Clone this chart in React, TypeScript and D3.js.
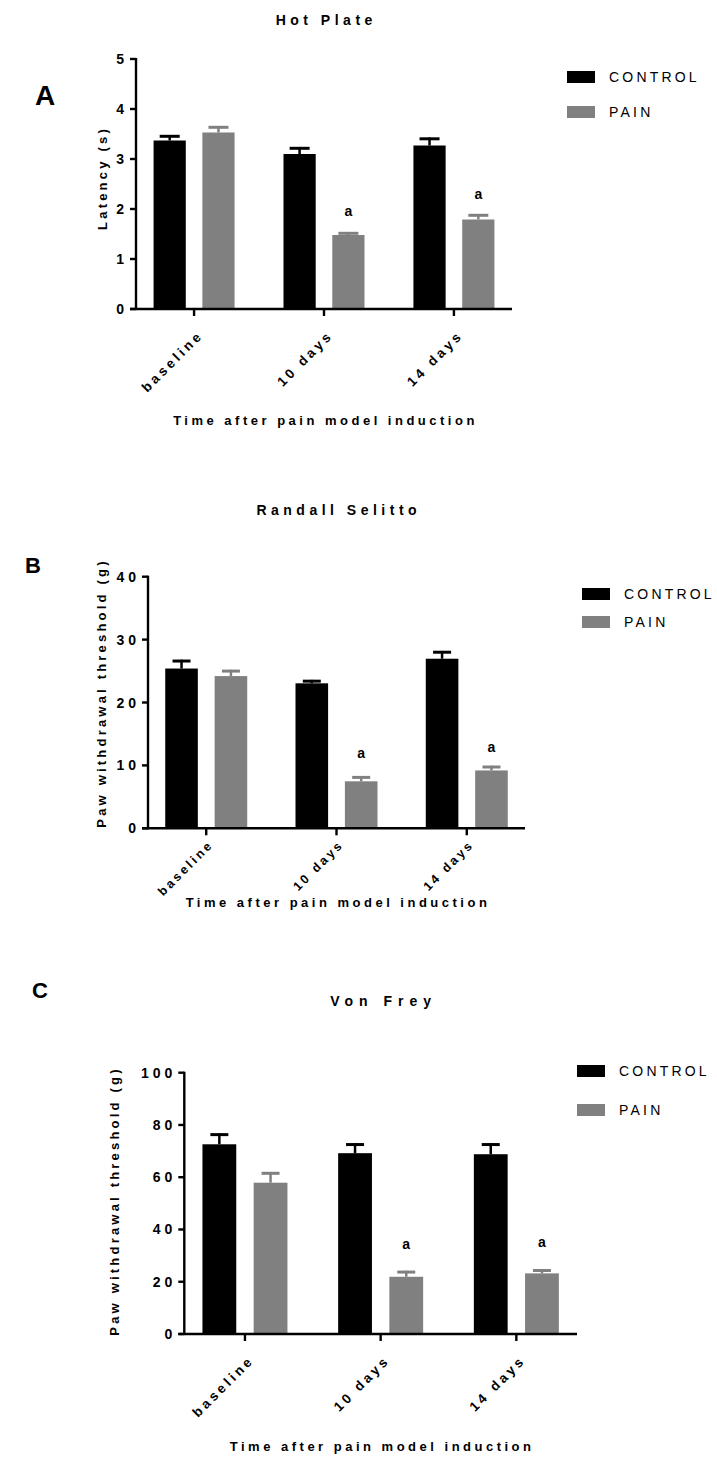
import React from "react";
import * as d3 from "d3";

// ---------- DATA ----------
const groups = ["baseline", "10 days", "14 days"];
const seriesNames = ["CONTROL", "PAIN"];
const seriesColors = ["#000000", "#808080"];

const hotPlateControl = [3.37, 3.1, 3.27];
const hotPlateControlSem = [0.11, 0.14, 0.16];
const hotPlatePain = [3.53, 1.48, 1.79];
const hotPlatePainSem = [0.13, 0.06, 0.11];
const hotPlateTicks = [0, 1, 2, 3, 4, 5];
const hotPlateSigAt = [null, 1.86, 2.2];

const randallControl = [25.4, 23.05, 26.96];
const randallControlSem = [1.4, 0.55, 1.24];
const randallPain = [24.2, 7.47, 9.2];
const randallPainSem = [1.0, 0.83, 0.75];
const randallTicks = [0, 10, 20, 30, 40];
const randallSigAt = [null, 11.2, 12.1];

const vonFreyControl = [72.6, 69.2, 68.8];
const vonFreyControlSem = [4.2, 3.8, 4.2];
const vonFreyPain = [57.9, 21.9, 23.2];
const vonFreyPainSem = [4.1, 2.3, 1.6];
const vonFreyTicks = [0, 20, 40, 60, 80, 100];
const vonFreySigAt = [null, 32.5, 33.3];

const sigLabel = "a";
const xAxisTitle = "Time after pain model induction";

// ---------- LAYOUT ----------
const FONT = "'Liberation Sans', Arial, Helvetica, sans-serif";

const panels = [
  {
    letter: "A", letterX: 45, letterY: 105, letterSize: 28,
    title: "Hot Plate", titleY: 25, titleSpacing: 4.5,
    yLabel: "Latency (s)", yLabelX: 107, yLabelCY: 178,
    x0: 136, x1: 512, yBase: 309, yTop: 59, yMax: 5,
    ticks: hotPlateTicks, tickSpacing: 3,
    half: 40.5, cap: 20, xLabDx: 10, xLabDy: 27, xLabSize: 13.5, xLabSpacing: 3.3,
    control: hotPlateControl, controlSem: hotPlateControlSem,
    pain: hotPlatePain, painSem: hotPlatePainSem, sig: hotPlateSigAt,
    xTitleY: 425,
    legendX: 567, legendY: 77, legendGap: 35,
  },
  {
    letter: "B", letterX: 33, letterY: 573, letterSize: 22,
    title: "Randall Selitto", titleY: 515, titleSpacing: 4.5,
    yLabel: "Paw withdrawal threshold (g)", yLabelX: 106, yLabelCY: 693,
    x0: 148, x1: 525, yBase: 828.3, yTop: 576.7, yMax: 40,
    ticks: randallTicks, tickSpacing: 4,
    half: 41, cap: 18, xLabDx: 8, xLabDy: 17, xLabSize: 12.5, xLabSpacing: 2.8,
    control: randallControl, controlSem: randallControlSem,
    pain: randallPain, painSem: randallPainSem, sig: randallSigAt,
    xTitleY: 907,
    legendX: 582, legendY: 594, legendGap: 28,
  },
  {
    letter: "C", letterX: 40, letterY: 998, letterSize: 22,
    title: "Von Frey", titleY: 1006, titleSpacing: 6,
    yLabel: "Paw withdrawal threshold (g)", yLabelX: 119, yLabelCY: 1201,
    x0: 184.3, x1: 577, yBase: 1334, yTop: 1072.7, yMax: 100,
    ticks: vonFreyTicks, tickSpacing: 4,
    half: 42.5, cap: 18, xLabDx: 10, xLabDy: 27, xLabSize: 13.5, xLabSpacing: 3.3,
    control: vonFreyControl, controlSem: vonFreyControlSem,
    pain: vonFreyPain, painSem: vonFreyPainSem, sig: vonFreySigAt,
    xTitleY: 1451,
    legendX: 577, legendY: 1071, legendGap: 39,
  },
];

function Panel({ p }: { p: any }) {
  const y = d3.scaleLinear().domain([0, p.yMax]).range([p.yBase, p.yTop]);
  const x = d3.scalePoint<string>().domain(groups).range([p.x0, p.x1]).padding(0.447);
  const inner = d3.scaleBand<string>().domain(seriesNames).range([-p.half, p.half]).paddingInner(0.34);
  const bw = inner.bandwidth();
  const series = [
    { name: seriesNames[0], color: seriesColors[0], vals: p.control, sem: p.controlSem },
    { name: seriesNames[1], color: seriesColors[1], vals: p.pain, sem: p.painSem },
  ];
  const axisMid = (p.x0 + p.x1) / 2;
  return (
    <g>
      <text x={p.letterX} y={p.letterY} textAnchor="middle" fontSize={p.letterSize} fontWeight="bold" fontFamily={FONT}>
        {p.letter}
      </text>
      <text x={axisMid + p.titleSpacing / 2} y={p.titleY} textAnchor="middle" fontSize={14} fontWeight="bold"
        fontFamily={FONT} style={{ letterSpacing: `${p.titleSpacing}px` }}>
        {p.title}
      </text>
      {series.map((s) =>
        groups.map((g, i) => {
          const cx = (x(g) as number) + (inner(s.name) as number);
          const top = y(s.vals[i]);
          const errTop = y(s.vals[i] + s.sem[i]);
          const mid = cx + bw / 2;
          return (
            <g key={s.name + g}>
              <rect x={cx} y={top} width={bw} height={p.yBase - top} fill={s.color} />
              <line x1={mid} x2={mid} y1={top} y2={errTop} stroke={s.color} strokeWidth={2.5} />
              <line x1={mid - p.cap / 2} x2={mid + p.cap / 2} y1={errTop + 1.3} y2={errTop + 1.3} stroke={s.color} strokeWidth={3} />
            </g>
          );
        })
      )}
      {groups.map((g, i) =>
        p.sig[i] == null ? null : (
          <text key={"sig" + g} x={(x(g) as number) + (inner(seriesNames[1]) as number) + bw / 2} y={y(p.sig[i])}
            textAnchor="middle" fontSize={14} fontWeight="bold" fontFamily={FONT}>
            {sigLabel}
          </text>
        )
      )}
      <line x1={p.x0} x2={p.x0} y1={p.yTop - 1} y2={p.yBase + 1} stroke="#000" strokeWidth={2.4} />
      <line x1={p.x0 - 6} x2={p.x1} y1={p.yBase} y2={p.yBase} stroke="#000" strokeWidth={2.4} />
      {p.ticks.map((t: number) => (
        <g key={"yt" + t}>
          <line x1={p.x0 - 6} x2={p.x0} y1={y(t)} y2={y(t)} stroke="#000" strokeWidth={2.4} />
          <text x={p.x0 - 12 + p.tickSpacing} y={y(t) + 5} textAnchor="end" fontSize={14} fontWeight="bold"
            fontFamily={FONT} style={{ letterSpacing: `${p.tickSpacing}px` }}>
            {t}
          </text>
        </g>
      ))}
      {groups.map((g) => (
        <g key={"xt" + g}>
          <line x1={x(g)} x2={x(g)} y1={p.yBase} y2={p.yBase + 7} stroke="#000" strokeWidth={2.4} />
          <text transform={`translate(${(x(g) as number) + p.xLabDx},${p.yBase + p.xLabDy}) rotate(-45)`} textAnchor="end"
            fontSize={p.xLabSize} fontWeight="bold" fontFamily={FONT} style={{ letterSpacing: `${p.xLabSpacing}px` }}>
            {g}
          </text>
        </g>
      ))}
      <text x={axisMid + 1.5} y={p.xTitleY} textAnchor="middle" fontSize={13} fontWeight="bold" fontFamily={FONT}
        style={{ letterSpacing: "3.5px" }}>
        {xAxisTitle}
      </text>
      <text transform={`translate(${p.yLabelX},${p.yLabelCY}) rotate(-90)`} textAnchor="middle" fontSize={13}
        fontWeight="bold" fontFamily={FONT} style={{ letterSpacing: "3.2px" }}>
        {p.yLabel}
      </text>
      {series.map((s, k) => (
        <g key={"lg" + s.name}>
          <rect x={p.legendX} y={p.legendY + k * p.legendGap - 6} width={28} height={12} fill={s.color} />
          <text x={p.legendX + 42} y={p.legendY + k * p.legendGap + 5} fontSize={14} fontFamily={FONT}
            style={{ letterSpacing: "3.2px" }}>
            {s.name}
          </text>
        </g>
      ))}
    </g>
  );
}

export default function App() {
  return (
    <svg width={717} height={1457} style={{ position: "absolute", left: 0, top: 0, background: "#fff" }}>
      <rect width={717} height={1457} fill="#fff" />
      {panels.map((p) => (
        <Panel key={p.letter} p={p} />
      ))}
    </svg>
  );
}
